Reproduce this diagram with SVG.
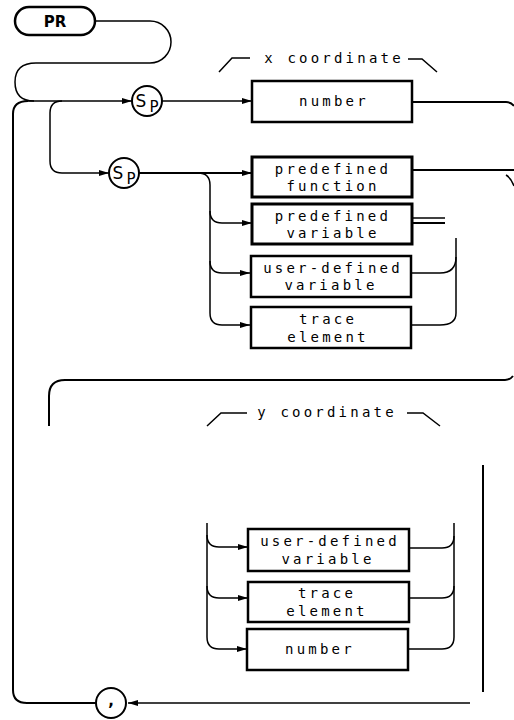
<svg xmlns="http://www.w3.org/2000/svg" width="514" height="720" viewBox="0 0 514 720">
<style>
.box{fill:#fff;stroke:#000;stroke-width:2.5}
.thick{stroke-width:3}
.ln{fill:none;stroke:#000;stroke-width:1.5}
.hv{fill:none;stroke:#000;stroke-width:2}
.lb{font-family:"DejaVu Sans Mono","Liberation Mono",monospace;font-size:14px;letter-spacing:3.2px;text-anchor:middle;fill:#000}
.sp{font-family:"DejaVu Sans","Liberation Sans",sans-serif;text-anchor:middle;fill:#000}
</style>
<defs>
<marker id="ar" viewBox="0 0 10 6" refX="10" refY="3" markerWidth="10" markerHeight="6" markerUnits="userSpaceOnUse" orient="auto">
<path d="M0,0 L10,3 L0,6 z" fill="#000"/>
</marker>
</defs>
<rect width="514" height="720" fill="#fff"/>
<g id="connectors">
<path class="ln" d="M95,21 H150 A21,21 0 0 1 150,63 H36 Q15,63 15,82 Q15,101 34,101"/>
<path class="hv" d="M13,690 V114 Q13,101 28,101"/>
<path class="ln" d="M28,101 H132" marker-end="url(#ar)"/>
<path class="ln" d="M62,101 Q50,101 50,113 V161 Q50,173 62,173 H109" marker-end="url(#ar)"/>
<path class="ln" d="M162,101 H252" marker-end="url(#ar)"/>
<path class="hv" d="M412,102 H506 Q511,102 514,106"/>
<path class="hv" d="M139,173 H252" marker-end="url(#ar)"/>
<path class="ln" d="M198,173 Q210,173 210,185 V313 Q210,325 222,325 H250" marker-end="url(#ar)"/>
<path class="ln" d="M210,211 Q210,223 222,223 H252" marker-end="url(#ar)"/>
<path class="ln" d="M210,261 Q210,273 222,273 H250" marker-end="url(#ar)"/>
<path class="hv" d="M388,170 H514"/>
<path class="ln" d="M506,175 Q511,178 514,186"/>
<path class="ln" d="M388,218 H445"/>
<path class="hv" d="M412,223 H445"/>
<path class="ln" d="M456,238 V313 Q456,325 440,325 H411"/>
<path class="ln" d="M411,273 H440 Q456,273 456,257"/>
<path class="hv" d="M49,426 V396 Q49,380 65,380 H505 Q510,380 513,376"/>
<path class="ln" d="M207,426 L221,413 H247"/>
<path class="ln" d="M407,413 H423 L440,426"/>
<path class="ln" d="M219,72 L232,58 H250"/>
<path class="ln" d="M408,59 H422 L437,72"/>
<path class="ln" d="M207,523 V637 Q207,649 219,649 H247" marker-end="url(#ar)"/>
<path class="ln" d="M207,535 Q207,547 219,547 H248" marker-end="url(#ar)"/>
<path class="ln" d="M207,586 Q207,598 219,598 H248" marker-end="url(#ar)"/>
<path class="ln" d="M454,523 V637 Q454,649 442,649 H408"/>
<path class="ln" d="M409,548 H442 Q454,548 454,536"/>
<path class="ln" d="M409,598 H442 Q454,598 454,586"/>
<path class="hv" d="M483,465 V692"/>
<path class="ln" d="M470,703 H128" marker-end="url(#ar)"/>
<path class="hv" d="M96,703 H27 Q13,703 13,690"/>
</g>
<g id="PR">
<rect x="15" y="7" width="80" height="28" rx="14" fill="#fff" stroke="#000" stroke-width="2.5"/>
<text x="55" y="27" class="sp" font-size="15" font-weight="bold">PR</text>
</g>
<g id="sp1">
<circle cx="147" cy="101" r="15" fill="#fff" stroke="#000" stroke-width="2"/>
<text x="141" y="107" class="sp" font-size="17">S</text>
<text x="154" y="112" class="sp" font-size="15">P</text>
</g>
<g id="sp2">
<circle cx="124" cy="173" r="15" fill="#fff" stroke="#000" stroke-width="2"/>
<text x="118" y="179" class="sp" font-size="17">S</text>
<text x="131" y="184" class="sp" font-size="15">P</text>
</g>
<g id="xlabel"><text x="334" y="63" class="lb">x coordinate</text></g>
<g id="number1">
<rect x="252" y="81" width="160" height="41" class="box"/>
<text x="334" y="106" class="lb">number</text>
</g>
<g id="predef-function">
<rect x="252" y="157" width="160" height="40" class="box thick"/>
<text x="333" y="174" class="lb">predefined</text>
<text x="333" y="191" class="lb">function</text>
</g>
<g id="predef-variable">
<rect x="252" y="204" width="160" height="40" class="box thick"/>
<text x="333" y="221" class="lb">predefined</text>
<text x="333" y="238" class="lb">variable</text>
</g>
<g id="user-variable1">
<rect x="251" y="256" width="160" height="41" class="box"/>
<text x="333" y="273" class="lb">user-defined</text>
<text x="331" y="290" class="lb">variable</text>
</g>
<g id="trace1">
<rect x="251" y="307" width="160" height="41" class="box"/>
<text x="328" y="324" class="lb">trace</text>
<text x="328" y="342" class="lb">element</text>
</g>
<g id="ylabel"><text x="327" y="417" class="lb">y coordinate</text></g>
<g id="user-variable2">
<rect x="248" y="529" width="161" height="42" class="box"/>
<text x="330" y="546" class="lb">user-defined</text>
<text x="328" y="564" class="lb">variable</text>
</g>
<g id="trace2">
<rect x="248" y="582" width="161" height="40" class="box"/>
<text x="327" y="598" class="lb">trace</text>
<text x="327" y="616" class="lb">element</text>
</g>
<g id="number2">
<rect x="247" y="629" width="161" height="41" class="box"/>
<text x="320" y="654" class="lb">number</text>
</g>
<g id="comma">
<circle cx="111" cy="703" r="15" fill="#fff" stroke="#000" stroke-width="2"/>
<text x="111" y="706" class="sp" font-size="15" font-weight="bold">,</text>
</g>
</svg>
